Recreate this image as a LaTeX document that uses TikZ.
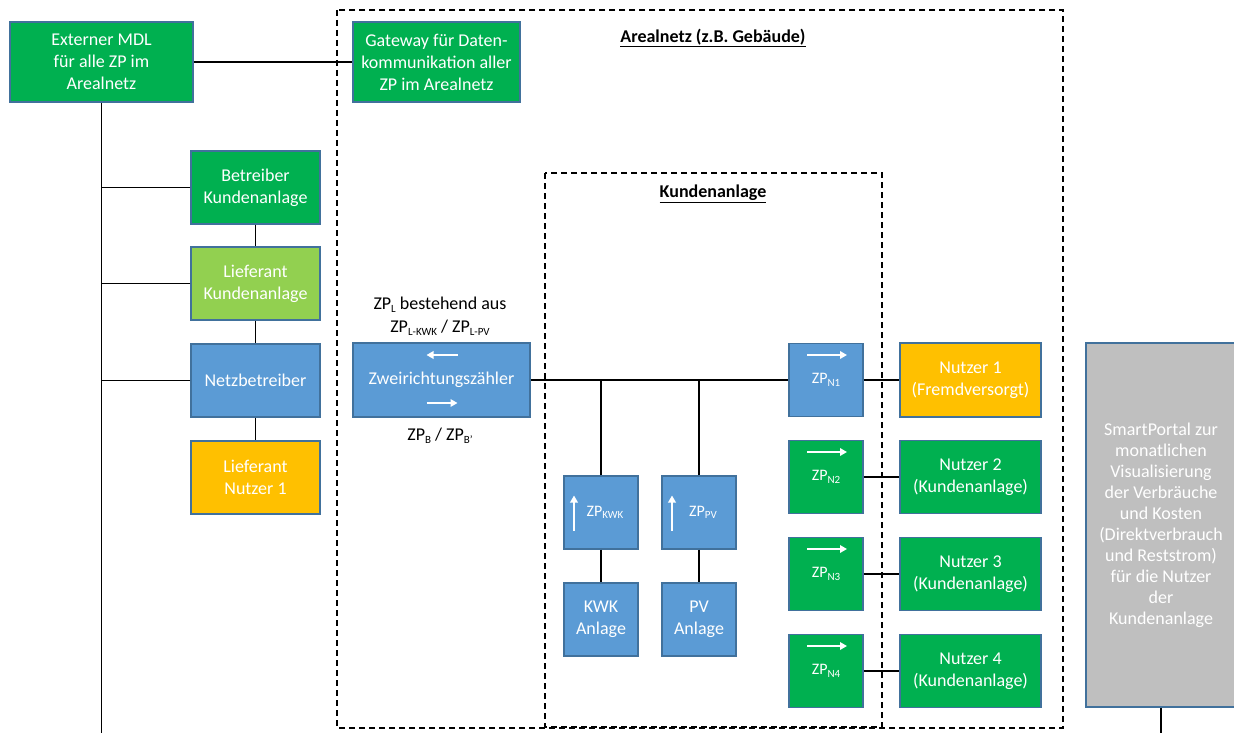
\documentclass[tikz,border=0pt]{standalone}
\usepackage{fontspec}
\setmainfont{Carlito}
\usetikzlibrary{arrows.meta}
\definecolor{cgreen}{HTML}{00B050}
\definecolor{clgreen}{HTML}{92D050}
\definecolor{cblue}{HTML}{5B9BD5}
\definecolor{cyellow}{HTML}{FFC000}
\definecolor{cgray}{HTML}{BFBFBF}
\definecolor{cborder}{HTML}{41719C}
\newcommand{\zs}[1]{\raisebox{-0.35ex}{\fontsize{11}{11}\selectfont #1}}
\tikzset{
  box/.style={draw=cborder, line width=1.2pt, inner sep=0pt, align=center, text=white, font=\fontsize{18}{22}\selectfont},
  zpbox/.style={box, minimum width=74pt, minimum height=73pt, font=\fontsize{16}{20}\selectfont},
  conn/.style={line width=1.4pt, draw=black},
  frame/.style={line width=1.4pt, dash pattern=on 6pt off 4pt},
  warrow/.style={draw=white, line width=1.8pt, -{Triangle[length=7pt,width=7.5pt]}},
  lbl/.style={font=\fontsize{18}{22}\selectfont, align=center, inner sep=0pt, text=black},
  ttl/.style={font=\fontsize{18}{22}\selectfont\bfseries, inner sep=0pt, text=black},
}
\begin{document}
\begin{tikzpicture}[x=1pt,y=-1pt]
\useasboundingbox (0,0) rectangle (1234,733);
% frames
\draw[frame] (337,10) rectangle (1063,728);
\draw[frame] (545,173) rectangle (882,727);
\node[ttl] (t1) at (713,38) {\underline{Arealnetz (z.B. Gebäude)}};
\node[ttl] (t2) at (713,194) {\underline{Kundenanlage}};
% left column
\node[box, fill=cgreen, minimum width=183pt, minimum height=80pt] (mdl) at (101.5,62) {Externer MDL\\für alle ZP im\\Arealnetz};
\node[box, fill=cgreen, minimum width=167pt, minimum height=80pt] (gw) at (436.5,62) {Gateway für Daten-\\kommunikation aller\\ZP im Arealnetz};
\node[box, fill=cgreen, minimum width=129pt, minimum height=73pt] (bka) at (255.5,187.5) {Betreiber\\Kundenanlage};
\node[box, fill=clgreen, minimum width=129pt, minimum height=73pt] (lka) at (255.5,283.5) {Lieferant\\Kundenanlage};
\node[box, fill=cblue, minimum width=129pt, minimum height=73pt] (nb) at (255.5,380.5) {Netzbetreiber};
\node[box, fill=cyellow, minimum width=129pt, minimum height=73pt] (ln1) at (255.5,477.5) {Lieferant\\Nutzer 1};
% meter
\node[box, fill=cblue, minimum width=177pt, minimum height=74pt] (zz) at (441.5,380) {Zweirichtungszähler};
\node[lbl] (zl1) at (440,305) {ZP\zs{L} bestehend aus};
\node[lbl] (zl2) at (440,328) {ZP\zs{L-KWK} / ZP\zs{L-PV}};
\node[lbl] (zb) at (440,436) {ZP\zs{B} / ZP\zs{B'}};
% generation
\node[zpbox, fill=cblue] (zpkwk) at (601,512.5) {\hspace*{8pt}ZP\zs{KWK}};
\node[zpbox, fill=cblue, font=\fontsize{18}{22}\selectfont] (kwk) at (601,619.5) {KWK\\Anlage};
\node[zpbox, fill=cblue] (zppv) at (699,512.5) {\hspace*{8pt}ZP\zs{PV}};
\node[zpbox, fill=cblue, font=\fontsize{18}{22}\selectfont] (pv) at (699,619.5) {PV\\Anlage};
% user meters
\node[zpbox, fill=cblue] (zpn1) at (826,380) {ZP\zs{N1}};
\node[zpbox, fill=cgreen] (zpn2) at (826,477) {ZP\zs{N2}};
\node[zpbox, fill=cgreen] (zpn3) at (826,574) {ZP\zs{N3}};
\node[zpbox, fill=cgreen] (zpn4) at (826,671) {ZP\zs{N4}};
\node[box, fill=cyellow, minimum width=141pt, minimum height=74pt] (n1) at (970.5,380) {Nutzer 1\\(Fremdversorgt)};
\node[box, fill=cgreen, minimum width=141pt, minimum height=73pt] (n2) at (970.5,477) {Nutzer 2\\(Kundenanlage)};
\node[box, fill=cgreen, minimum width=141pt, minimum height=73pt] (n3) at (970.5,574) {Nutzer 3\\(Kundenanlage)};
\node[box, fill=cgreen, minimum width=141pt, minimum height=73pt] (n4) at (970.5,671) {Nutzer 4\\(Kundenanlage)};
% portal
\node[box, fill=cgray, minimum width=150pt, minimum height=364pt, font=\fontsize{18}{21}\selectfont] (sp) at (1161,525) {SmartPortal zur\\monatlichen\\Visualisierung\\der Verbräuche\\und Kosten\\(Direktverbrauch\\und Reststrom)\\für die Nutzer\\der\\Kundenanlage};
\coordinate (spend) at (1161,733);
\coordinate (busend) at (101.5,733);
% connectors
\draw[conn] (mdl) -- (gw);
\draw[conn] (mdl.south) -- (busend);
\draw[conn] (bka.west) -- (bka.west -| mdl.south);
\draw[conn] (lka.west) -- (lka.west -| mdl.south);
\draw[conn] (nb.west) -- (nb.west -| mdl.south);
\draw[conn] (bka) -- (lka);
\draw[conn] (lka) -- (nb);
\draw[conn] (nb) -- (ln1);
\draw[conn] (zz.east) -- (zpn1.west);
\draw[conn] (zpkwk.north) -- (zpkwk.north |- zz.east);
\draw[conn] (zppv.north) -- (zppv.north |- zz.east);
\draw[conn] (zpkwk) -- (kwk);
\draw[conn] (zppv) -- (pv);
\draw[conn] (zpn1) -- (n1);
\draw[conn] (zpn2) -- (n2);
\draw[conn] (zpn3) -- (n3);
\draw[conn] (zpn4) -- (n4);
\draw[conn] (sp.south) -- (spend);
% white arrows
\draw[warrow] ([shift={(16,-25)}]zz.center) -- ([shift={(-15,-25)}]zz.center);
\draw[warrow] ([shift={(-15,23)}]zz.center) -- ([shift={(16,23)}]zz.center);
\foreach \n in {zpn1,zpn2,zpn3,zpn4}{
  \draw[warrow] ([shift={(-19,-25)}]\n.center) -- ([shift={(21,-25)}]\n.center);
}
\draw[warrow] ([shift={(-27,18)}]zpkwk.center) -- ([shift={(-27,-17)}]zpkwk.center);
\draw[warrow] ([shift={(-27,18)}]zppv.center) -- ([shift={(-27,-17)}]zppv.center);
\end{tikzpicture}
\end{document}
